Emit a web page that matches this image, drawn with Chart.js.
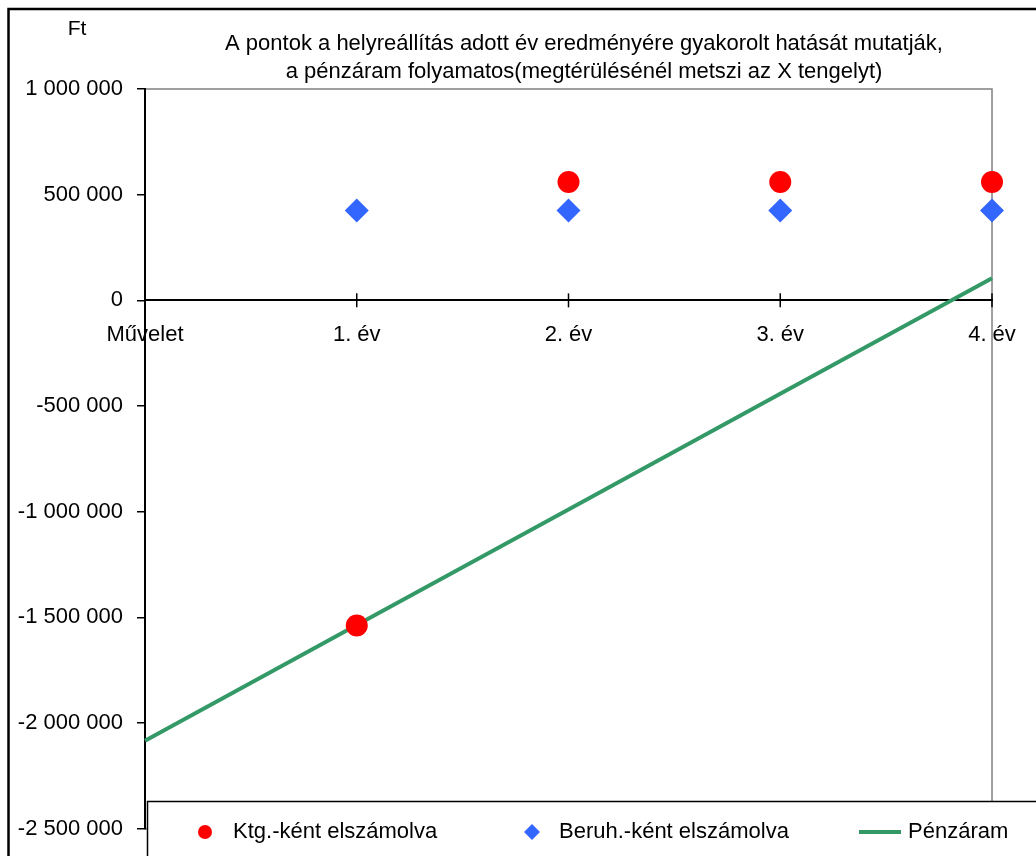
<!DOCTYPE html>
<html lang="hu">
<head>
<meta charset="utf-8">
<title>Pénzáram</title>
<script src="https://cdn.jsdelivr.net/npm/chart.js@4.4.1/dist/chart.umd.min.js"></script>
<style>
  html, body { margin: 0; padding: 0; background: #fff; }
  #wrap { width: 1036px; height: 856px; }
</style>
</head>
<body>
<div id="wrap"><canvas id="chart" width="1036" height="856"></canvas></div>
<script>
// adatok (leolvasva az ábráról)
const categories = ['Művelet', '1. év', '2. év', '3. év', '4. év'];
const ktgValues = [null, -1538000, 560000, 560000, 560000];
const beruhValues = [null, 425000, 425000, 425000, 425000];
const penzaramValues = [-2083000, -1536000, -989000, -442000, 105000];
const yTicks = [1000000, 500000, 0, -500000, -1000000, -1500000, -2000000, -2500000];
const seriesNames = ['Ktg.-ként elszámolva', 'Beruh.-ként elszámolva', 'Pénzáram'];
const titleLines = [
    'A pontok a helyreállítás adott év eredményére gyakorolt hatását mutatják,',
    'a pénzáram folyamatos(megtérülésénél metszi az X tengelyt)'
];
const unitLabel = 'Ft';

const FONT = '"Liberation Sans", Arial, sans-serif';
const fmt = v => (v < 0 ? '-' : '') + String(Math.abs(v)).replace(/\B(?=(\d{3})+(?!\d))/g, ' ');

// keret, plot terület, cím
const framePlugin = {
    id: 'frame',
    beforeDraw(chart) {
        const { ctx, chartArea: a } = chart;
        ctx.save();
        ctx.fillStyle = '#fff';
        ctx.fillRect(0, 0, chart.width, chart.height);
        ctx.strokeStyle = '#000';
        ctx.lineWidth = 2.5;
        ctx.strokeRect(8.5, 9, chart.width + 20, chart.height + 20);
        // plot terület szürke kerete
        ctx.strokeStyle = '#808080';
        ctx.lineWidth = 1.5;
        ctx.strokeRect(a.left, a.top, a.right - a.left, a.bottom - a.top);
        // cím
        ctx.fillStyle = '#000';
        ctx.textAlign = 'center';
        ctx.textBaseline = 'middle';
        ctx.font = '22px ' + FONT;
        titleLines.forEach((t, i) => ctx.fillText(t, 584, 44 + i * 28));
        ctx.font = '21px ' + FONT;
        ctx.fillText(unitLabel, 77, 29);
        ctx.restore();
    },
    beforeDatasetsDraw(chart) {
        // keresztező osztásjelek az X tengelyen
        const { ctx, scales: { x, y } } = chart;
        const y0 = y.getPixelForValue(0);
        ctx.save();
        ctx.strokeStyle = '#000';
        ctx.lineWidth = 1.5;
        x.ticks.forEach((_, i) => {
            const px = x.getPixelForTick(i);
            ctx.beginPath();
            ctx.moveTo(px, y0 - 7);
            ctx.lineTo(px, y0 + 7);
            ctx.stroke();
        });
        ctx.restore();
    },
    afterDraw(chart) {
        // jelmagyarázat doboz
        const { ctx } = chart;
        ctx.save();
        ctx.fillStyle = '#fff';
        ctx.fillRect(147, 801, chart.width, 80);
        ctx.strokeStyle = '#000';
        ctx.lineWidth = 1.5;
        ctx.strokeRect(147.5, 801.5, chart.width, 80);
        const markerX = [205, 532, 880];
        const textX = [233, 559, 908];
        const rowY = 832;
        ctx.font = '22px ' + FONT;
        ctx.textAlign = 'left';
        ctx.textBaseline = 'middle';
        chart.data.datasets.forEach((ds, i) => {
            if (ds.showLine === false) {
                ctx.fillStyle = ds.backgroundColor;
                Chart.helpers.drawPoint(ctx, {
                    pointStyle: ds.pointStyle,
                    radius: ds.pointStyle === 'circle' ? 7 : 8,
                    rotation: 0,
                    borderWidth: 0
                }, markerX[i], rowY);
            } else {
                ctx.strokeStyle = ds.borderColor;
                ctx.lineWidth = 4;
                ctx.beginPath();
                ctx.moveTo(markerX[i] - 21, rowY);
                ctx.lineTo(markerX[i] + 21, rowY);
                ctx.stroke();
            }
            ctx.fillStyle = '#000';
            ctx.fillText(ds.label, textX[i], rowY);
        });
        ctx.restore();
    }
};

new Chart(document.getElementById('chart'), {
    type: 'line',
    data: {
        labels: categories,
        datasets: [
            {
                label: seriesNames[0], data: ktgValues, showLine: false,
                pointStyle: 'circle', pointRadius: 11, pointHoverRadius: 11,
                backgroundColor: '#FF0000', borderColor: '#FF0000', pointBorderWidth: 0
            },
            {
                label: seriesNames[1], data: beruhValues, showLine: false,
                pointStyle: 'rectRot', pointRadius: 12, pointHoverRadius: 12,
                backgroundColor: '#3366FF', borderColor: '#3366FF', pointBorderWidth: 0
            },
            {
                label: seriesNames[2], data: penzaramValues,
                borderColor: '#339966', backgroundColor: '#339966',
                borderWidth: 4, pointRadius: 0, tension: 0, fill: false
            }
        ]
    },
    options: {
        responsive: false,
        animation: false,
        layout: { padding: { top: 89, right: 44, bottom: 25, left: 0 } },
        plugins: { legend: { display: false }, tooltip: { enabled: false } },
        scales: {
            x: {
                type: 'category', offset: false, position: { y: 0 },
                grid: { display: false },
                border: { display: true, color: '#000', width: 2 },
                ticks: { color: '#000', font: { family: FONT, size: 22 }, padding: 13, maxRotation: 0, autoSkip: false }
            },
            y: {
                min: -2500000, max: 1000000,
                afterBuildTicks: s => { s.ticks = yTicks.map(v => ({ value: v })); },
                afterFit: s => { s.width = 145; },
                grid: { drawOnChartArea: false, drawTicks: true, tickLength: 8, color: '#000', lineWidth: 1.5 },
                border: { display: true, color: '#000', width: 2 },
                ticks: { color: '#000', font: { family: FONT, size: 22 }, padding: 14, callback: v => fmt(v) }
            }
        }
    },
    plugins: [framePlugin]
});
</script>
</body>
</html>
